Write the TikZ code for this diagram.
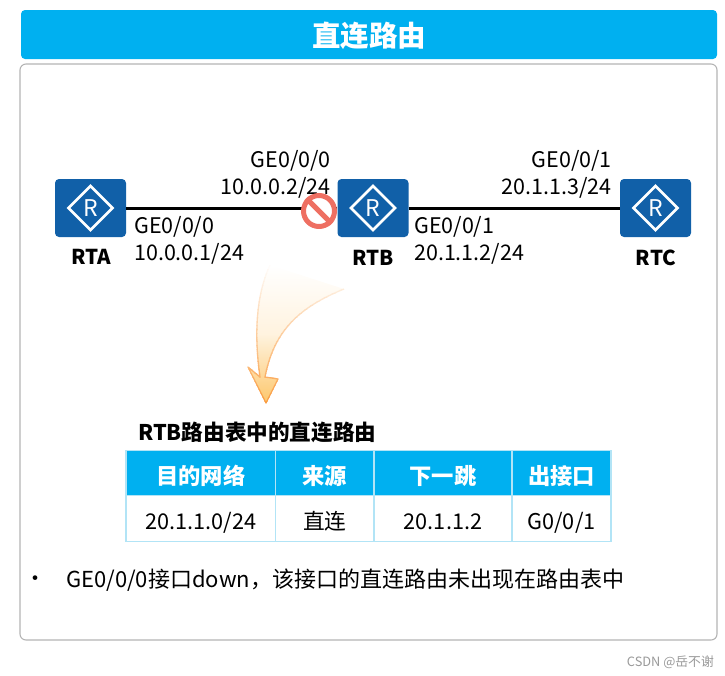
\documentclass[tikz,border=0pt]{standalone}
\usepackage{fontspec}
\setmainfont{Noto Sans CJK SC}
\usetikzlibrary{shapes.geometric}

\definecolor{titleblue}{HTML}{00B0F0}
\definecolor{routerblue}{HTML}{1160A8}
\definecolor{framegray}{HTML}{B4B4B4}
\definecolor{cellline}{HTML}{B2E4F6}
\definecolor{stopred}{HTML}{EE6F62}
\definecolor{arrowfill}{HTML}{FDC76C}
\definecolor{arrowline}{HTML}{FA9A3C}

\tikzset{
    router/.style={fill=routerblue, rounded corners=4pt, minimum width=71pt, minimum height=58pt, inner sep=0pt},
    routermark/.style={diamond, draw=white, line width=2.6pt, aspect=1, minimum size=45pt, inner sep=0pt, text=white, font=\fontsize{23}{23}\selectfont},
    routername/.style={font=\fontsize{20.5}{21}\selectfont\bfseries},
    portlabel/.style={align=left, inner sep=0pt, font=\fontsize{21.5}{27}\selectfont},
    portlabelr/.style={portlabel, align=right},
    link/.style={line width=3pt},
    headcell/.style={draw=cellline, line width=1.6pt, fill=titleblue, text=white, minimum height=45pt, inner sep=0pt, text height=22pt, text depth=0pt, font=\fontsize{22.3}{22}\selectfont\bfseries},
    bodycell/.style={draw=cellline, line width=1.6pt, fill=white, minimum height=46pt, inner sep=0pt, text height=22pt, text depth=0pt, font=\fontsize{21.7}{22}\selectfont}
}

\def\bendarrow{(270,265) .. controls (256,295) and (254,335) .. (260,377) -- (248,367) -- (266,403) -- (278,379) -- (265,377) .. controls (274,330) and (300,307) .. (344,289)}

\begin{document}
\begin{tikzpicture}[x=1pt, y=-1pt]
    \useasboundingbox (0,0) rectangle (725,675);

    % Title bar and frame
    \node (titlebar) at (369,34.5) [fill=titleblue, rounded corners=4pt, minimum width=696pt, minimum height=49pt, inner sep=0pt, text height=23pt, text depth=0pt, text=white, font=\fontsize{28.5}{28}\selectfont\bfseries] {直连路由};
    \node (frame) at (368.5,352) [draw=framegray, line width=1.1pt, rounded corners=6pt, minimum width=697pt, minimum height=576pt, inner sep=0pt] {};

    % Routers
    \node (rta) at (90.5,208) [router] {};
    \node (rtb) at (373,208) [router] {};
    \node (rtc) at (655.5,208) [router] {};
    \node (rtamark) at (rta.center) [routermark] {R};
    \node (rtbmark) at (rtb.center) [routermark] {R};
    \node (rtcmark) at (rtc.center) [routermark] {R};
    \node (rtaname) at (91,257) [routername] {RTA};
    \node (rtbname) at (373.5,258) [routername] {RTB};
    \node (rtcname) at (656,258) [routername] {RTC};

    % Links
    \draw[link] (rta) -- (rtb);
    \draw[link] (rtb) -- (rtc);

    % Port labels
    \node (portaone) at (134,240.5) [portlabel, anchor=west] {GE0/0/0\\10.0.0.1/24};
    \node (portbone) at (331,174.5) [portlabelr, anchor=east] {GE0/0/0\\10.0.0.2/24};
    \node (portbtwo) at (414,240.5) [portlabel, anchor=west] {GE0/0/1\\20.1.1.2/24};
    \node (portctwo) at (612,174.5) [portlabelr, anchor=east] {GE0/0/1\\20.1.1.3/24};

    % Down sign on the RTB port
    \node (stopsign) at (319,211) [circle, draw=stopred, fill=white, line width=5pt, minimum size=31pt, inner sep=0pt] {};
    \draw[stopred, line width=5pt] (stopsign.north west) -- (stopsign.south east);

    % Bent arrow, fading out towards its tail
    \shade[top color=white, bottom color=arrowfill, middle color=arrowfill!22!white] \bendarrow;
    \foreach \y [evaluate=\y as \p using {(\y-261)/1.45}] in {261,265,...,405} {
        \begin{scope}
            \clip (240,\y) rectangle (350,\y+4);
            \draw[arrowline!\p!white, line width=1.3pt, line join=round] \bendarrow;
        \end{scope}
    }

    % Table
    \node (tabletitle) at (138,432) [anchor=west, inner sep=0pt, font=\fontsize{21.6}{22}\selectfont\bfseries] {RTB路由表中的直连路由};
    \node (headdest) at (200.75,473) [headcell, minimum width=149.5pt] {目的网络};
    \node (headsrc) at (324.75,473) [headcell, minimum width=98.5pt] {来源};
    \node (headhop) at (443,473) [headcell, minimum width=138pt] {下一跳};
    \node (headport) at (561.5,473) [headcell, minimum width=99pt] {出接口};
    \node (celldest) at (200.75,518.5) [bodycell, minimum width=149.5pt] {20.1.1.0/24};
    \node (cellsrc) at (324.75,518.5) [bodycell, minimum width=98.5pt] {直连};
    \node (cellhop) at (443,518.5) [bodycell, minimum width=138pt] {20.1.1.2};
    \node (cellport) at (561.5,518.5) [bodycell, minimum width=99pt] {G0/0/1};

    % Note under the table
    \node (bullet) at (35,581) [inner sep=0pt, font=\fontsize{22}{22}\selectfont] {•};
    \node (note) at (66,580.5) [anchor=west, inner sep=0pt, font=\fontsize{22}{22}\selectfont] {GE0/0/0接口down，该接口的直连路由未出现在路由表中};

    % Watermark
    \node (mark) at (714,662) [anchor=east, inner sep=0pt, text=black!40, font=\fontsize{12.8}{13}\selectfont] {CSDN @岳不谢};
\end{tikzpicture}
\end{document}
